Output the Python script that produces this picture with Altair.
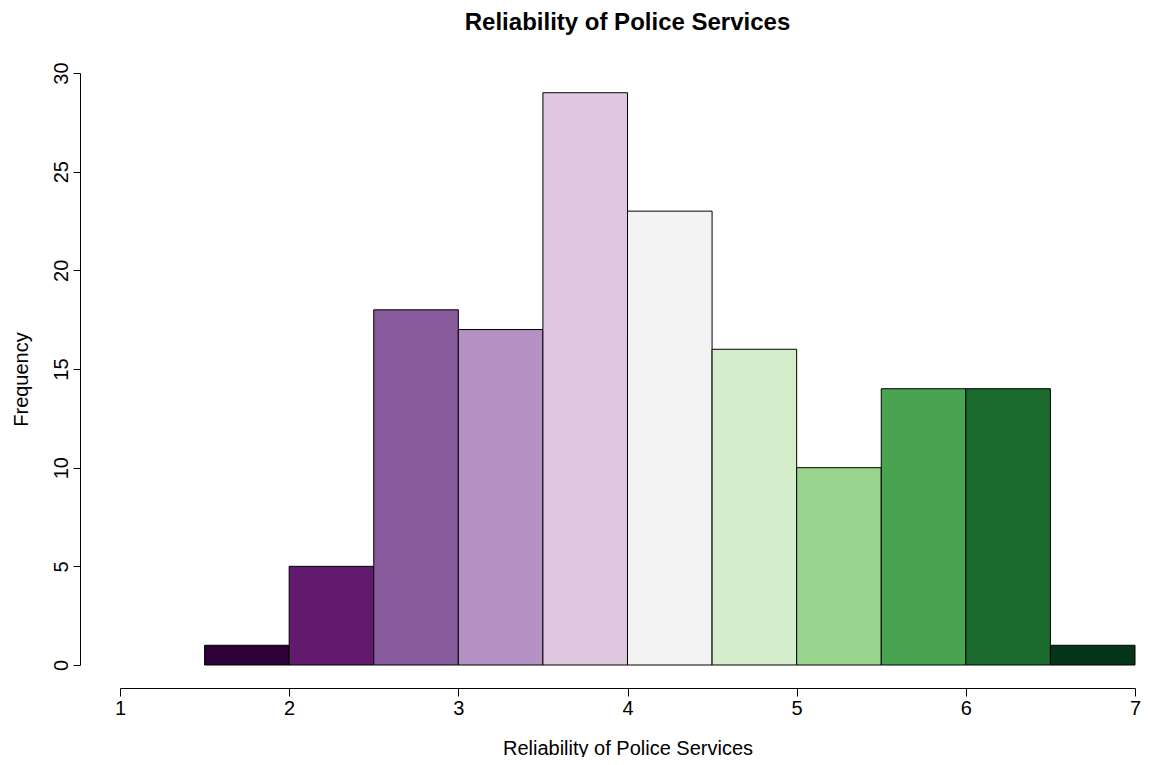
import altair as alt
import pandas as pd

bin_start = [1.5, 2.0, 2.5, 3.0, 3.5, 4.0, 4.5, 5.0, 5.5, 6.0, 6.5]
bin_end = [2.0, 2.5, 3.0, 3.5, 4.0, 4.5, 5.0, 5.5, 6.0, 6.5, 7.0]
counts = [1, 5, 18, 17, 29, 23, 16, 10, 14, 14, 1]
colors = ["#2d0036", "#611a6d", "#875a9b", "#b590c3", "#e1c8e1", "#f3f3f3",
          "#d4edcb", "#99d58e", "#4aa350", "#1b6b2e", "#073519"]
x_ticks = [1, 2, 3, 4, 5, 6, 7]
y_ticks = [0, 5, 10, 15, 20, 25, 30]

labels = [f"{a}-{b}" for a, b in zip(bin_start, bin_end)]
df = pd.DataFrame({"start": bin_start, "end": bin_end, "count": counts,
                   "bin": labels, "zero": [0] * len(counts)})

FONT = "Liberation Sans"

chart = alt.Chart(df).mark_rect(stroke="black", strokeWidth=1).encode(
    x=alt.X("start:Q",
            scale=alt.Scale(domain=[1, 7], nice=False, zero=False),
            axis=alt.Axis(values=x_ticks, title="Reliability of Police Services",
                          offset=23, grid=False, tickSize=8, labelPadding=2,
                          labelBaseline="top", labelFontSize=20, titleFontSize=20,
                          titleFontWeight="normal", titleY=60, titleBaseline="middle",
                          labelFlush=False, labelOverlap=False)),
    x2="end:Q",
    y=alt.Y("count:Q",
            scale=alt.Scale(domain=[0, 30], nice=False),
            axis=alt.Axis(values=y_ticks, title="Frequency", offset=40, grid=False,
                          tickSize=7, labelPadding=2, labelAngle=270,
                          labelAlign="center", labelBaseline="bottom",
                          labelFontSize=20, titleFontSize=20, titleFontWeight="normal",
                          titleAngle=270, titleAlign="center", titleBaseline="middle",
                          titleX=-59, titleY=306, labelFlush=False,
                          labelOverlap=False)),
    y2="zero:Q",
    color=alt.Color("bin:N", scale=alt.Scale(domain=labels, range=colors), legend=None),
).properties(
    width=1015,
    height=592,
    background="white",
    autosize=alt.AutoSizeParams(type="none"),
    padding={"left": 112, "top": 65, "right": 6, "bottom": 92},
    title=alt.TitleParams("Reliability of Police Services", fontSize=24,
                          fontWeight="bold", font=FONT, anchor="middle",
                          frame="group", offset=27, color="black"),
).configure_view(strokeWidth=0, stroke="transparent").configure_axis(
    labelFont=FONT, titleFont=FONT, labelColor="black", titleColor="black",
    domainColor="black", tickColor="black", domainWidth=1, tickWidth=1,
)

chart.save("out.html", embed_options={"renderer": "svg", "actions": False})
